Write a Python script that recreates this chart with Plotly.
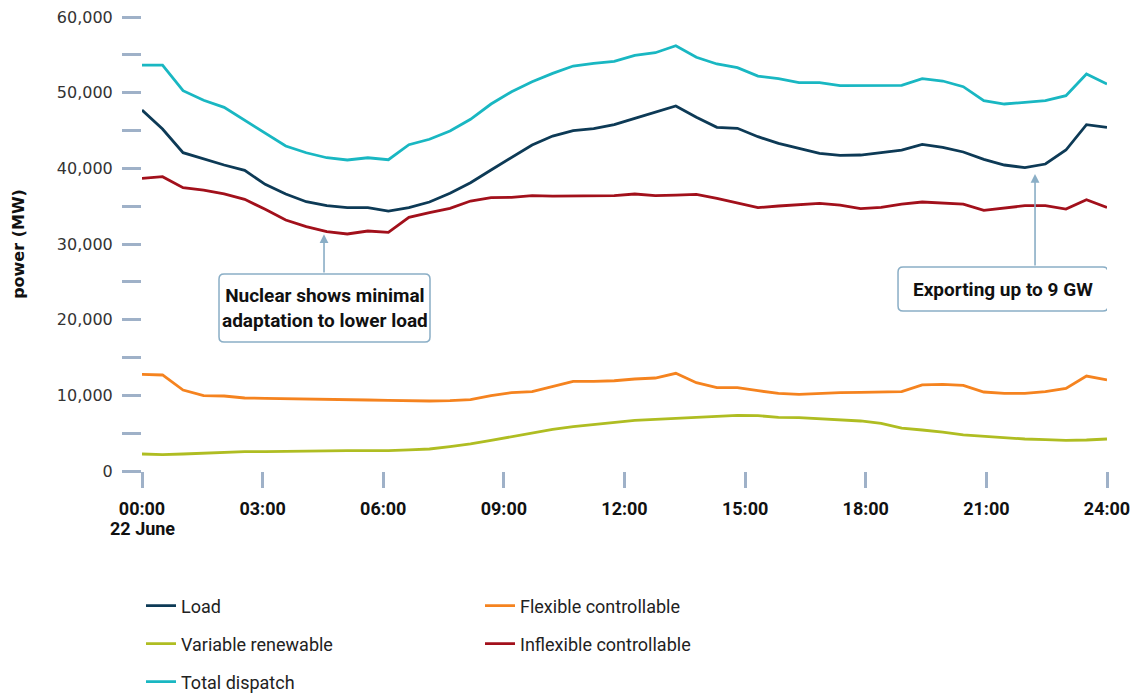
import numpy as np
import plotly.graph_objects as go

# ---- data (MW), half-hourly, 22 June ----
load = [47710, 45200, 42070, 41230, 40440, 39730, 37880, 36610, 35590, 35060, 34800, 34800,
        34360, 34800, 35550, 36700, 38100, 39780, 41410, 43080, 44270, 44970, 45240, 45770,
        46610, 47400, 48240, 46740, 45420, 45290, 44180, 43300, 42640, 41980, 41720, 41760,
        42070, 42420, 43170, 42780, 42160, 41190, 40440, 40090, 40570, 42420, 45770, 45420]
total_dispatch = [53650, 53650, 50260, 48990, 48060, 46390, 44630, 42950, 42060, 41400, 41100, 41400,
                  41140, 43120, 43840, 44930, 46480, 48500, 50130, 51450, 52550, 53520, 53870, 54140,
                  54930, 55280, 56210, 54670, 53790, 53300, 52200, 51850, 51320, 51320, 50920, 50920,
                  50880, 50970, 51850, 51540, 50790, 48940, 48500, 48760, 48940, 49600, 52460, 51140]
inflexible = [38680, 38900, 37440, 37130, 36610, 35900, 34580, 33170, 32290, 31630, 31320, 31720,
              31540, 33520, 34140, 34700, 35680, 36120, 36170, 36380, 36340, 36340, 36300, 36380,
              36610, 36380, 36470, 36560, 36040, 35460, 34800, 35020, 35190, 35380, 35150, 34670,
              34840, 35280, 35550, 35460, 35280, 34450, 34710, 35060, 35060, 34620, 35860, 34840]
flexible = [12780, 12690, 10700, 9960, 9910, 9650, 9600, 9560, 9560, 9520, 9520, 9380,
            9340, 9250, 9250, 9290, 9430, 9960, 10350, 10480, 11140, 11850, 11850, 11930,
            12160, 12290, 12910, 11670, 11010, 11010, 10610, 10260, 10130, 10260, 10350, 10400,
            10400, 10480, 11370, 11450, 11320, 10440, 10260, 10260, 10480, 10920, 12550, 12030]
variable = [2250, 2160, 2250, 2340, 2470, 2550, 2550, 2600, 2640, 2680, 2680, 2680,
            2680, 2780, 2910, 3210, 3570, 4050, 4530, 5060, 5510, 5860, 6170, 6400,
            6700, 6830, 6960, 7140, 7220, 7360, 7310, 7090, 7050, 6920, 6740, 6610,
            6300, 5680, 5420, 5150, 4760, 4580, 4320, 4230, 4140, 4050, 4100, 4230]

tick_hours = [0, 3, 6, 9, 12, 15, 18, 21, 24]
tick_labels = ["00:00", "03:00", "06:00", "09:00", "12:00", "15:00", "18:00", "21:00", "24:00"]
date_label = "22 June"

hours = np.linspace(0, 24, len(load))

W, H = 1130, 695
COND = "Roboto, Liberation Sans, sans-serif"
TICK_COL = "#9fb1c8"
ARROW_COL = "#8aaec6"

series = [
    ("Load", load, "#0d3a56", "legend"),
    ("Flexible controllable", flexible, "#f5831f", "legend"),
    ("Variable renewable", variable, "#afbd22", "legend2"),
    ("Inflexible controllable", inflexible, "#a2101b", "legend2"),
    ("Total dispatch", total_dispatch, "#19b7c2", "legend3"),
]

fig = go.Figure()
for name, vals, col, leg in series:
    fig.add_trace(go.Scatter(x=hours, y=vals, mode="lines", name=name,
                             line=dict(color=col, width=2.8), legend=leg))

leg_common = dict(orientation="h", xref="container", x=141 / W, xanchor="left",
                  yref="container", yanchor="middle",
                  entrywidth=294, entrywidthmode="pixels",
                  font=dict(family=COND, size=18, color="#222"),
                  bgcolor="rgba(0,0,0,0)")

fig.update_layout(
    width=W, height=H,
    margin=dict(l=142, r=23, t=17, b=224),
    plot_bgcolor="white", paper_bgcolor="white",
    legend=dict(y=1 - 606 / H, **leg_common),
    legend2=dict(y=1 - 644 / H, **leg_common),
    legend3=dict(y=1 - 682 / H, **leg_common),
    xaxis=dict(range=[0, 24], tickvals=tick_hours, ticktext=tick_labels, automargin=False,
               ticks="outside", ticklen=16, tickwidth=3, tickcolor=TICK_COL,
               showgrid=False, showline=False, zeroline=False,
               ticklabelstandoff=5, ticklabeloverflow="allow",
               tickfont=dict(family=COND, size=18, color="#111", weight="bold")),
    yaxis=dict(range=[0, 60000], automargin=False,
               tickvals=list(range(0, 60001, 10000)), tickformat=",",
               ticks="outside", ticklen=19, tickwidth=3, tickcolor=TICK_COL,
               minor=dict(ticks="outside", ticklen=19, tickwidth=3, tickcolor=TICK_COL,
                          tickvals=list(range(5000, 60000, 10000))),
               showgrid=False, showline=False, zeroline=False,
               ticklabelstandoff=6, ticklabeloverflow="allow",
               tickfont=dict(family="DejaVu Sans", size=16, color="#333"),
               title=dict(text="power (MW)", standoff=28,
                          font=dict(family="DejaVu Sans", size=16, color="#111", weight="bold"))),
)

# date under the first tick label
fig.add_annotation(x=0, y=0, xref="x", yref="y", yanchor="middle", yshift=-57, showarrow=False,
                   text=date_label, font=dict(family=COND, size=18, color="#111", weight="bold"))


def rounded_box(w, h, r):
    a, b = w / 2, h / 2
    return (f"M {-a + r},{-b} L {a - r},{-b} Q {a},{-b} {a},{-b + r} "
            f"L {a},{b - r} Q {a},{b} {a - r},{b} L {-a + r},{b} Q {-a},{b} {-a},{b - r} "
            f"L {-a},{-b + r} Q {-a},{-b} {-a + r},{-b} Z")


box_font = dict(family=COND, size=19, color="#111", weight="bold")
boxes = [
    (4.539, 21540, 211, 68, "Nuclear shows minimal<br>adaptation to lower load"),
    (21.414, 24050, 210, 44, "Exporting up to 9 GW"),
]
for bx, by, bw, bh, btxt in boxes:
    fig.add_shape(type="path", xref="x", yref="y", xsizemode="pixel", ysizemode="pixel",
                  xanchor=bx, yanchor=by, path=rounded_box(bw, bh, 5),
                  fillcolor="white", line=dict(color=ARROW_COL, width=1.5), layer="above")
    fig.add_annotation(x=bx, y=by, xref="x", yref="y", showarrow=False, text=btxt,
                       font=box_font, align="center")

# arrows
fig.add_annotation(x=4.527, y=31300, ax=4.527, ay=26030, xref="x", yref="y", axref="x", ayref="y",
                   text="", showarrow=True, arrowhead=2, arrowsize=1.1, arrowwidth=1.6,
                   arrowcolor=ARROW_COL)
fig.add_annotation(x=22.21, y=39250, ax=22.21, ay=26960, xref="x", yref="y", axref="x", ayref="y",
                   text="", showarrow=True, arrowhead=2, arrowsize=1.1, arrowwidth=1.6,
                   arrowcolor=ARROW_COL)

fig.write_html("out.html", config={"displayModeBar": False},
               post_script="document.body.style.margin='0';")
